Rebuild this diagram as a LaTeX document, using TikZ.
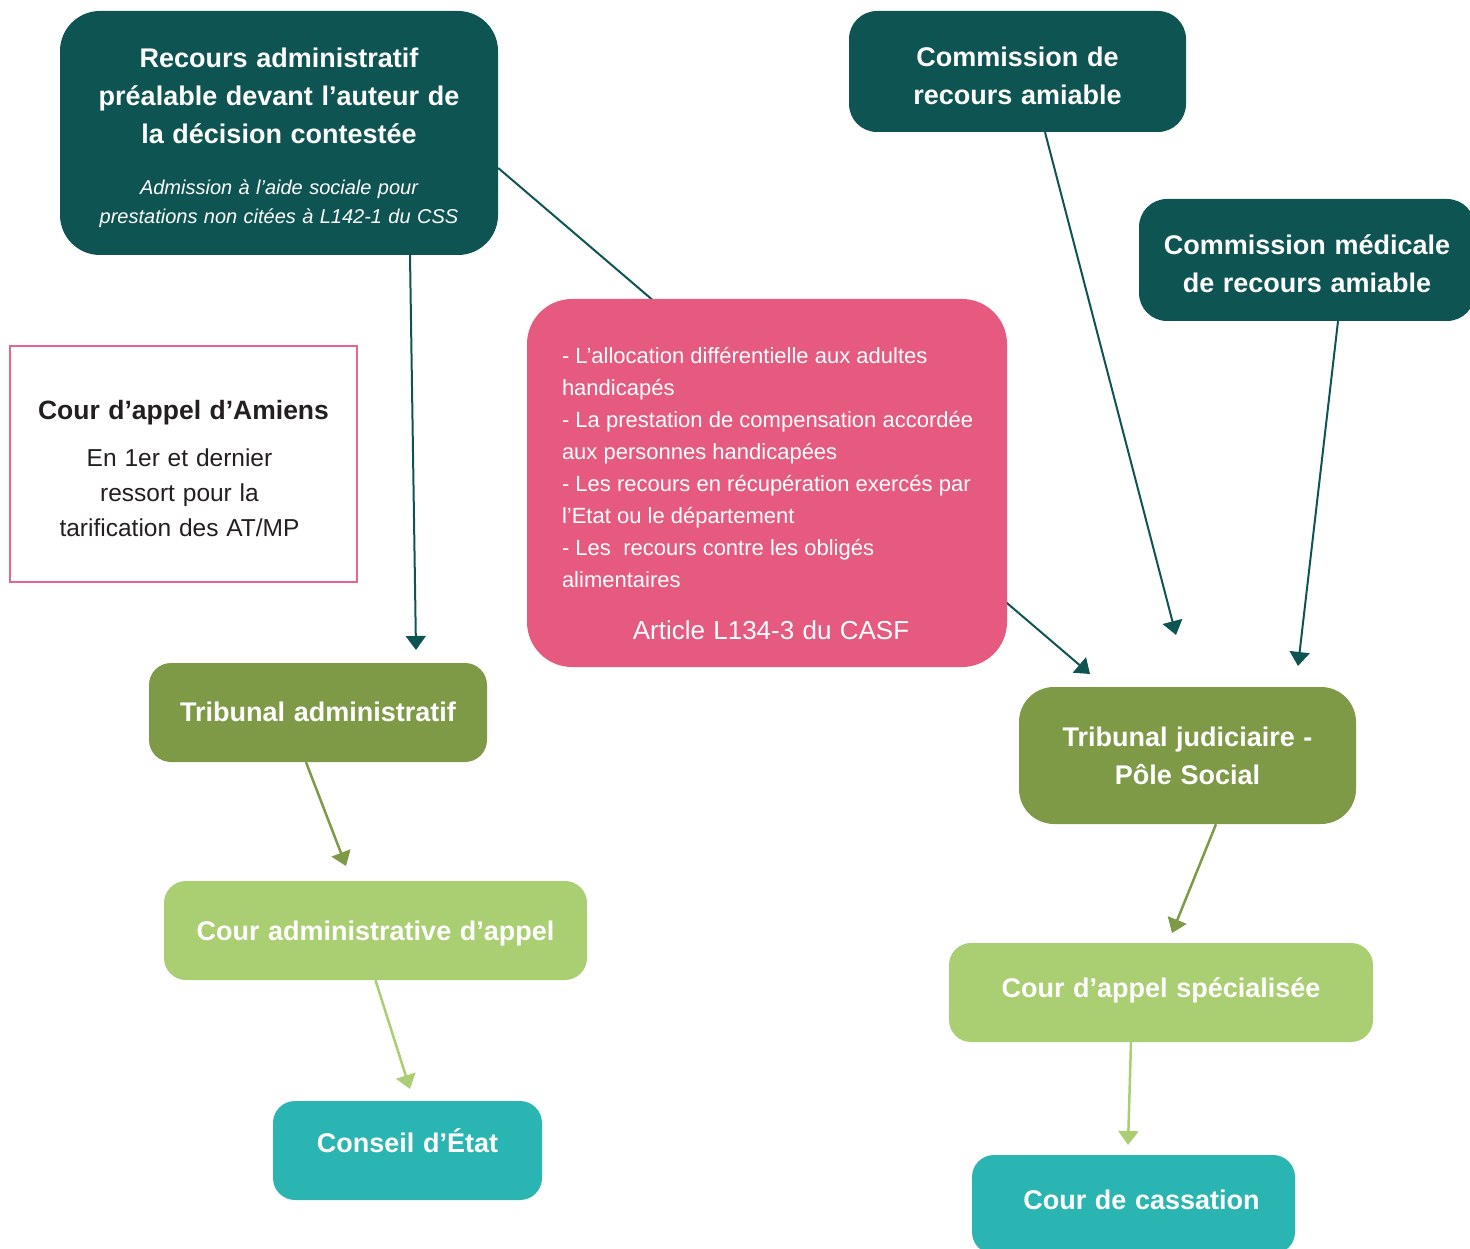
\documentclass[tikz,border=0pt]{standalone}
\usepackage{fontspec}
\setmainfont{Liberation Sans}
\usetikzlibrary{arrows.meta}
\setlength{\parindent}{0pt}
\definecolor{dteal}{HTML}{0E5453}
\definecolor{rose}{HTML}{E65A80}
\definecolor{roseline}{HTML}{E8668C}
\definecolor{olive}{HTML}{7E9A47}
\definecolor{lgreen}{HTML}{AACE72}
\definecolor{cteal}{HTML}{2AB5B2}
\definecolor{ink}{HTML}{231F20}
\pgfdeclarelayer{bg}
\pgfsetlayers{bg,main}
\newcommand{\ttl}{\bfseries\fontsize{27}{38}\selectfont\spaceskip=0.32em\relax}
\newcommand{\txt}[2]{\fontsize{#1}{#2}\selectfont\spaceskip=0.32em\relax}
\tikzset{
  box/.style={rectangle, inner sep=0pt, text=white, align=center},
  darkbox/.style={box, fill=dteal, rounded corners=28pt},
  courtbox/.style={box, rounded corners=22pt, minimum height=99pt, text height=20pt, text depth=1pt},
  arrd/.style={draw=dteal, line width=2pt, -{Triangle[width=20pt,length=14pt]}},
  arro/.style={draw=olive, line width=2.5pt, -{Triangle[width=20pt,length=14pt]}},
  arrl/.style={draw=lgreen, line width=2.5pt, -{Triangle[width=20pt,length=14pt]}}
}
\begin{document}
\begin{tikzpicture}[x=1pt,y=-1pt]
\useasboundingbox (0,0) rectangle (1470,1249);

% dark top boxes
\node[darkbox, rounded corners=40pt, minimum width=438pt, minimum height=244pt, text width=430pt] (rec) at (279,133)
{{\ttl \rule{0pt}{30pt}Recours administratif\\préalable devant l’auteur de\\la décision contestée\par}
\vspace{22pt}
{\itshape\txt{20}{29}Admission à l’aide sociale pour\\prestations non citées à L142-1 du CSS\par}};

\node[darkbox, minimum width=337pt, minimum height=121pt, text width=330pt] (cra) at (1017.5,71.5)
{\ttl \rule{0pt}{28pt}Commission de\\recours amiable\par};

\node[darkbox, minimum width=336pt, minimum height=122pt, text width=330pt] (cmra) at (1307,260)
{\ttl \rule{0pt}{28pt}Commission médicale\\de recours amiable\par};

% Amiens
\node[box, draw=roseline, line width=2.5pt, text=ink, minimum width=347pt, minimum height=236pt, text width=330pt] (ami) at (183.5,464)
{{\bfseries\txt{26.5}{36}\rule{0pt}{28pt}Cour d’appel d’Amiens\par}
\vspace{12pt}
{\txt{24.5}{35}\hspace*{-8pt}En 1er et dernier\\\hspace*{-8pt}ressort pour la\\\hspace*{-8pt}tarification des AT/MP\par}};

% pink box
\node[box, fill=rose, rounded corners=45pt, minimum width=480pt, minimum height=368pt, text width=410pt, align=left] (pink) at (767,483)
{\fontsize{22}{32}\selectfont\spaceskip=0.28em\relax
\rule{0pt}{38pt}\mbox{- L’allocation différentielle aux adultes}\\
handicapés\\
\mbox{- La prestation de compensation accordée}\\
aux personnes handicapées\\
\mbox{- Les recours en récupération exercés par}\\
l’Etat ou le département\\
\mbox{- Les\ \ recours contre les obligés}\\
alimentaires\par
\vspace{18pt}
{\centering\txt{26}{34}\hspace*{8pt}Article L134-3 du CASF\par}};

% courts
\node[courtbox, fill=olive, minimum width=338pt, text width=330pt, text depth=2pt] (ta) at (318,712.5) {\ttl Tribunal administratif};
\node[courtbox, fill=lgreen, minimum width=423pt, text width=410pt, text depth=0pt] (caa) at (375.5,930.5) {\ttl Cour administrative d’appel};
\node[courtbox, fill=cteal, minimum width=269pt, text width=260pt, text depth=16pt] (ce) at (407.5,1150.5) {\ttl Conseil d’État};

\node[courtbox, fill=olive, rounded corners=35pt, minimum width=337pt, minimum height=137pt, text width=330pt, text height=, text depth=] (tj) at (1187.5,755.5) {\ttl Tribunal judiciaire -\\Pôle Social\par};
\node[courtbox, fill=lgreen, minimum width=424pt, text width=410pt, text depth=10pt] (cas) at (1161,992.5) {\ttl Cour d’appel spécialisée};
\node[courtbox, fill=cteal, minimum width=323pt, text width=310pt, text depth=10pt] (cc) at (1133.5,1204.5) {\ttl \hspace*{16pt}Cour de cassation};

% arrow end points
\coordinate (e1) at (416,650);
\coordinate (e2) at (1090,674);
\coordinate (e3) at (1176,635);
\coordinate (e4) at (1298,666);
\coordinate (e5) at (346,866);
\coordinate (e6) at (410,1089);
\coordinate (e7) at (1172,933);
\coordinate (e8) at (1128,1145);

\begin{pgfonlayer}{bg}
\draw[arrd] ([yshift=-35pt]rec.east) -- (e2);
\end{pgfonlayer}
\draw[arrd] ([xshift=131pt]rec.south) -- (e1);
\draw[arrd] ([xshift=27.5pt]cra.south) -- (e3);
\draw[arrd] ([xshift=31pt]cmra.south) -- (e4);
\draw[arro] ([xshift=-12pt]ta.south) -- (e5);
\draw[arrl] (caa.south) -- (e6);
\draw[arro] ([xshift=28.5pt]tj.south) -- (e7);
\draw[arrl] ([xshift=-30pt]cas.south) -- (e8);
\end{tikzpicture}
\end{document}
